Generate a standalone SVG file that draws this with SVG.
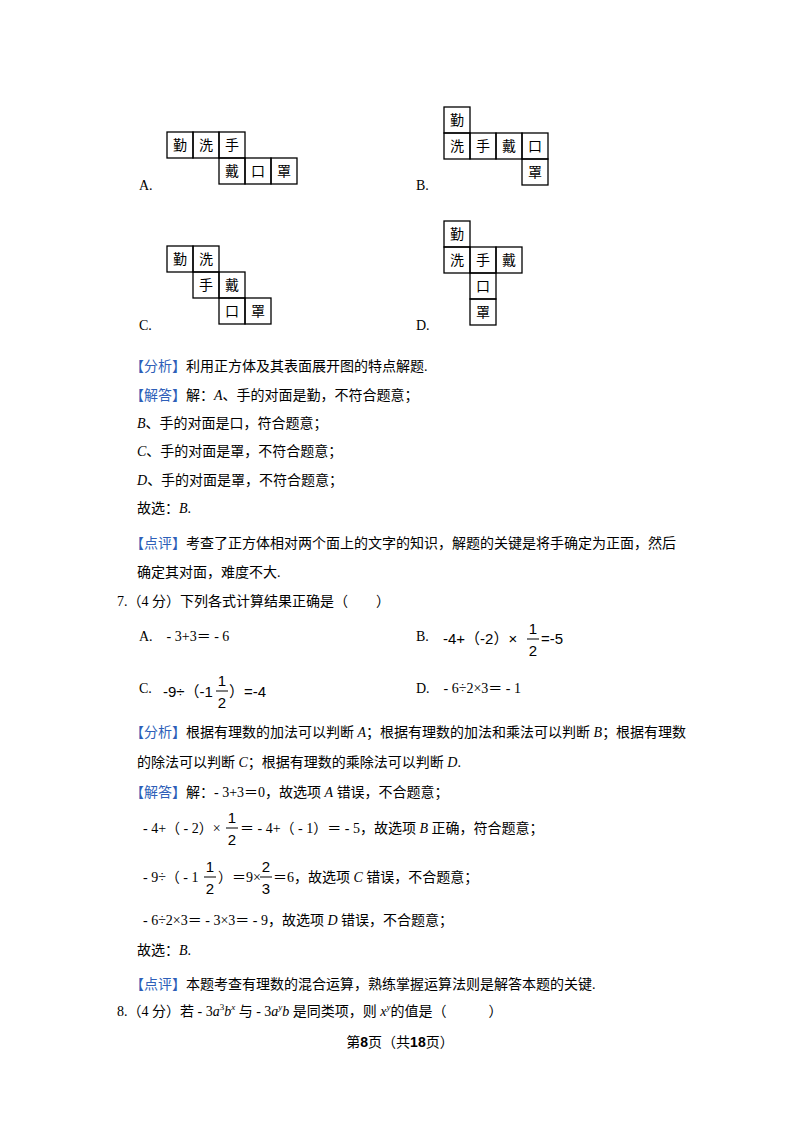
<svg xmlns="http://www.w3.org/2000/svg" width="800" height="1132" viewBox="0 0 800 1132">
<style>
text{font-family:"Liberation Serif","Noto Sans CJK SC",serif;font-size:14px;fill:#000}
.c{font-family:"Noto Sans CJK SC",sans-serif;font-size:14px;text-anchor:middle}
.b{fill:#2e5fb8}
.m{font-family:"Liberation Sans","Noto Sans CJK SC",sans-serif;font-size:15px}
.i{font-style:italic}
rect{fill:none;stroke:#000;stroke-width:1.3}
</style>
<rect width="800" height="1132" style="fill:#fff;stroke:none"/>
<g id="netA">
<rect x="167" y="132" width="26" height="26"/><rect x="193" y="132" width="26" height="26"/><rect x="219" y="132" width="26" height="26"/>
<rect x="219" y="158" width="26" height="26"/><rect x="245" y="158" width="26" height="26"/><rect x="271" y="158" width="26" height="26"/>
<text class="c" x="180" y="150">勤</text><text class="c" x="206" y="150">洗</text><text class="c" x="232" y="150">手</text>
<text class="c" x="232" y="176">戴</text><text class="c" x="258" y="176">口</text><text class="c" x="284" y="176">罩</text>
<text x="139" y="190">A.</text></g>
<g id="netB">
<rect x="444" y="107" width="26" height="26"/>
<rect x="444" y="133" width="26" height="26"/><rect x="470" y="133" width="26" height="26"/><rect x="496" y="133" width="26" height="26"/><rect x="522" y="133" width="26" height="26"/>
<rect x="522" y="159" width="26" height="26"/>
<text class="c" x="457" y="125">勤</text><text class="c" x="457" y="151">洗</text><text class="c" x="483" y="151">手</text><text class="c" x="509" y="151">戴</text><text class="c" x="535" y="151">口</text><text class="c" x="535" y="177">罩</text>
<text x="416" y="190">B.</text></g>
<g id="netC">
<rect x="167" y="246" width="26" height="26"/><rect x="193" y="246" width="26" height="26"/>
<rect x="193" y="272" width="26" height="26"/><rect x="219" y="272" width="26" height="26"/>
<rect x="219" y="298" width="26" height="26"/><rect x="245" y="298" width="26" height="26"/>
<text class="c" x="180" y="264">勤</text><text class="c" x="206" y="264">洗</text><text class="c" x="206" y="290">手</text><text class="c" x="232" y="290">戴</text><text class="c" x="232" y="316">口</text><text class="c" x="258" y="316">罩</text>
<text x="139" y="330">C.</text></g>
<g id="netD">
<rect x="444" y="221" width="26" height="26"/>
<rect x="444" y="247" width="26" height="26"/><rect x="470" y="247" width="26" height="26"/><rect x="496" y="247" width="26" height="26"/>
<rect x="470" y="273" width="26" height="26"/><rect x="470" y="299" width="26" height="26"/>
<text class="c" x="457" y="239">勤</text><text class="c" x="457" y="265">洗</text><text class="c" x="483" y="265">手</text><text class="c" x="509" y="265">戴</text><text class="c" x="483" y="291">口</text><text class="c" x="483" y="317">罩</text>
<text x="416" y="330">D.</text></g>
<g id="text">
<text x="130" y="371"><tspan class="b">【分析】</tspan>利用正方体及其表面展开图的特点解题.</text>
<text x="130" y="400"><tspan class="b">【解答】</tspan>解：<tspan class="i">A</tspan>、手的对面是勤，不符合题意；</text>
<text x="137" y="428"><tspan class="i">B</tspan>、手的对面是口，符合题意；</text>
<text x="137" y="456"><tspan class="i">C</tspan>、手的对面是罩，不符合题意；</text>
<text x="137" y="485"><tspan class="i">D</tspan>、手的对面是罩，不符合题意；</text>
<text x="137" y="513">故选：<tspan class="i">B</tspan>.</text>
<text x="130" y="548"><tspan class="b">【点评】</tspan>考查了正方体相对两个面上的文字的知识，解题的关键是将手确定为正面，然后</text>
<text x="137" y="577">确定其对面，难度不大.</text>
<text x="117" y="606">7.（4 分）下列各式计算结果正确是（　　）</text>
<text x="139" y="641">A.　- 3+3＝ - 6</text>
<text x="416" y="641">B.</text>
<text class="m" x="443" y="644">-4+（-2）×</text><text class="m" x="533" y="634" text-anchor="middle">1</text><line x1="527" y1="639" x2="539" y2="639" stroke="#000"/><text class="m" x="533" y="656" text-anchor="middle">2</text><text class="m" x="541" y="644">=-5</text>
<text x="139" y="693">C.</text>
<text class="m" x="163" y="697">-9÷（-1</text><text class="m" x="222" y="686" text-anchor="middle">1</text><line x1="216" y1="691" x2="228" y2="691" stroke="#000"/><text class="m" x="222" y="708" text-anchor="middle">2</text><text class="m" x="229" y="697">）=-4</text>
<text x="416" y="693">D.　- 6÷2×3＝ - 1</text>
<text x="130" y="737"><tspan class="b">【分析】</tspan>根据有理数的加法可以判断 <tspan class="i">A</tspan>；根据有理数的加法和乘法可以判断 <tspan class="i">B</tspan>；根据有理数</text>
<text x="137" y="767">的除法可以判断 <tspan class="i">C</tspan>；根据有理数的乘除法可以判断 <tspan class="i">D</tspan>.</text>
<text x="130" y="797"><tspan class="b">【解答】</tspan>解：- 3+3＝0，故选项 <tspan class="i">A</tspan> 错误，不合题意；</text>
<text x="143" y="833">- 4+（ - 2）×</text><text x="232" y="823" text-anchor="middle" class="m">1</text><line x1="226" y1="828" x2="238" y2="828" stroke="#000"/><text x="232" y="845" text-anchor="middle" class="m">2</text><text x="240" y="833">＝ - 4+（ - 1）＝ - 5，故选项 <tspan class="i">B</tspan> 正确，符合题意；</text>
<text x="143" y="882">- 9÷（ - 1</text><text x="210" y="872" text-anchor="middle" class="m">1</text><line x1="204" y1="877" x2="216" y2="877" stroke="#000"/><text x="210" y="894" text-anchor="middle" class="m">2</text><text x="218" y="882">）＝9×</text><text x="266" y="872" text-anchor="middle" class="m">2</text><line x1="260" y1="877" x2="272" y2="877" stroke="#000"/><text x="266" y="894" text-anchor="middle" class="m">3</text><text x="273" y="882">＝6，故选项 <tspan class="i">C</tspan> 错误，不合题意；</text>
<text x="143" y="925">- 6÷2×3＝ - 3×3＝ - 9，故选项 <tspan class="i">D</tspan> 错误，不合题意；</text>
<text x="137" y="955">故选：<tspan class="i">B</tspan>.</text>
<text x="130" y="989"><tspan class="b">【点评】</tspan>本题考查有理数的混合运算，熟练掌握运算法则是解答本题的关键.</text>
<text x="117" y="1016">8.（4 分）若 - 3<tspan class="i">a</tspan><tspan font-size="9" dy="-6">3</tspan><tspan class="i" dy="6">b</tspan><tspan font-size="9" class="i" dy="-6">x</tspan><tspan dy="6"> 与 - 3</tspan><tspan class="i">a</tspan><tspan font-size="9" class="i" dy="-6">y</tspan><tspan class="i" dy="6">b</tspan> 是同类项，则 <tspan class="i">x</tspan><tspan font-size="9" class="i" dy="-6">y</tspan><tspan dy="6">的值是（　　　）</tspan></text>
<text x="400" y="1047" text-anchor="middle" font-size="13">第<tspan font-weight="bold" font-family="Liberation Sans">8</tspan>页（共<tspan font-weight="bold" font-family="Liberation Sans">18</tspan>页）</text>
</g>
</svg>
